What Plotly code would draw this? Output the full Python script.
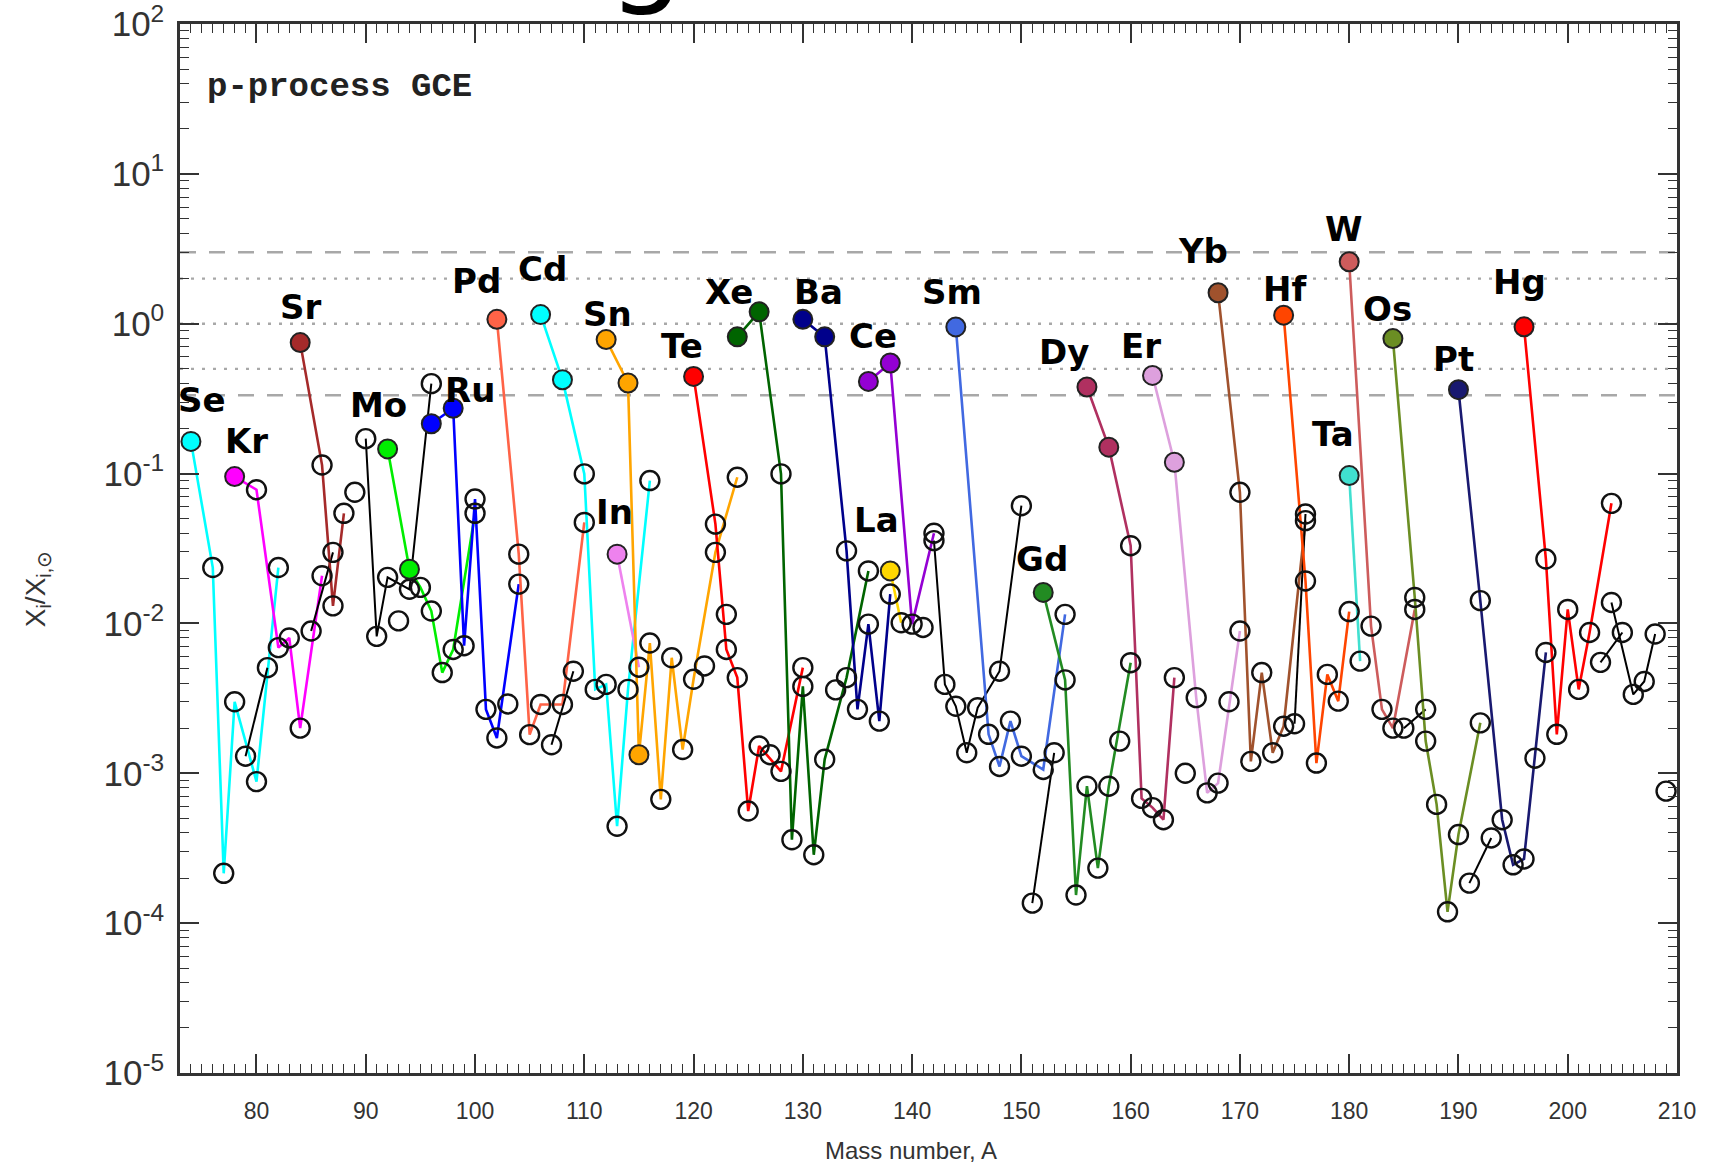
import math
import plotly.graph_objects as go

# ---------------- data (mass number A, X_i / X_i,sun) ----------------
Se_A = [74, 76, 77, 78, 80, 82]
Se_X = [0.164, 0.0236, 2.15e-4, 3.0e-3, 8.8e-4, 0.0236]
Se_P = [74]
Kr_A = [78, 80, 82, 83, 84, 86]
Kr_X = [0.0955, 0.078, 6.9e-3, 8.0e-3, 2.0e-3, 0.0208]
Kr_P = [78]
Br_A = [79, 81]
Br_X = [1.3e-3, 5.07e-3]
Rb_A = [85, 87]
Rb_X = [8.9e-3, 0.0298]
Sr_A = [84, 86, 87, 88]
Sr_X = [0.748, 0.114, 0.0131, 0.0543]
Sr_P = [84]
Y_A = [89]
Y_X = [0.075]
Zr_A = [90, 91, 92, 94, 96]
Zr_X = [0.171, 8.2e-3, 0.0203, 0.0169, 0.398]
Nb_A = [93]
Nb_X = [0.0104]
Mo_A = [92, 94, 95, 96, 97, 98, 100]
Mo_X = [0.146, 0.023, 0.0174, 0.0121, 4.7e-3, 6.7e-3, 0.0543]
Mo_P = [92, 94]
Ru_A = [96, 98, 99, 100, 101, 102, 104]
Ru_X = [0.215, 0.273, 7.1e-3, 0.0676, 2.67e-3, 1.72e-3, 0.0183]
Ru_P = [96, 98]
Rh_A = [103]
Rh_X = [2.9e-3]
Pd_A = [102, 104, 105, 106, 108, 110]
Pd_X = [1.07, 0.029, 1.81e-3, 2.88e-3, 2.88e-3, 0.0472]
Pd_P = [102]
Ag_A = [107, 109]
Ag_X = [1.55e-3, 4.8e-3]
Cd_A = [106, 108, 110, 111, 112, 113, 114, 116]
Cd_X = [1.15, 0.423, 0.0995, 3.63e-3, 3.92e-3, 4.43e-4, 3.63e-3, 0.0898]
Cd_P = [106, 108]
In_A = [113, 115]
In_X = [0.029, 5.1e-3]
In_P = [113]
Sn_A = [112, 114, 115, 116, 117, 118, 119, 120, 122, 124]
Sn_X = [0.784, 0.402, 1.33e-3, 7.4e-3, 6.7e-4, 5.9e-3, 1.44e-3, 4.24e-3, 0.0298, 0.0945]
Sn_P = [112, 114, 115]
Sb_A = [121, 123]
Sb_X = [5.2e-3, 0.0115]
Te_A = [120, 122, 123, 124, 125, 126, 128, 130]
Te_X = [0.445, 0.046, 6.7e-3, 4.35e-3, 5.6e-4, 1.52e-3, 1.03e-3, 5.07e-3]
Te_P = [120]
I_A = [127]
I_X = [1.33e-3]
Xe_A = [124, 126, 128, 129, 130, 131, 132, 134, 136]
Xe_X = [0.817, 1.2, 0.0995, 3.6e-4, 3.8e-3, 2.86e-4, 1.24e-3, 4.35e-3, 0.0224]
Xe_P = [124, 126]
Cs_A = [133]
Cs_X = [3.6e-3]
Ba_A = [130, 132, 134, 135, 136, 137, 138]
Ba_X = [1.07, 0.817, 0.0305, 2.67e-3, 9.9e-3, 2.23e-3, 0.0157]
Ba_P = [130, 132]
La_A = [138, 139]
La_X = [0.0224, 0.0101]
La_P = [138]
Ce_A = [136, 138, 140, 142]
Ce_X = [0.412, 0.547, 9.9e-3, 0.040]
Ce_P = [136, 138]
Pr_A = [141]
Pr_X = [9.4e-3]
Nd_A = [142, 143, 144, 145, 146, 148, 150]
Nd_X = [0.0357, 3.92e-3, 2.8e-3, 1.37e-3, 2.74e-3, 4.8e-3, 0.061]
Sm_A = [144, 147, 148, 149, 150, 152, 154]
Sm_X = [0.952, 1.82e-3, 1.11e-3, 2.23e-3, 1.3e-3, 1.06e-3, 0.0115]
Sm_P = [144]
Eu_A = [151, 153]
Eu_X = [1.36e-4, 1.37e-3]
Gd_A = [152, 154, 155, 156, 157, 158, 160]
Gd_X = [0.0161, 4.2e-3, 1.54e-4, 8.2e-4, 2.33e-4, 8.2e-4, 5.47e-3]
Gd_P = [152]
Tb_A = [159]
Tb_X = [1.64e-3]
Dy_A = [156, 158, 160, 161, 162, 163, 164]
Dy_X = [0.378, 0.15, 0.033, 6.8e-4, 5.9e-4, 4.9e-4, 4.35e-3]
Dy_P = [156, 158]
Ho_A = [165]
Ho_X = [1.0e-3]
Er_A = [162, 164, 166, 167, 168, 170]
Er_X = [0.452, 0.119, 3.2e-3, 7.4e-4, 8.6e-4, 8.9e-3]
Er_P = [162, 164]
Tm_A = [169]
Tm_X = [3.0e-3]
Yb_A = [168, 170, 171, 172, 173, 174, 176]
Yb_X = [1.61, 0.075, 1.2e-3, 4.7e-3, 1.37e-3, 2.06e-3, 0.0485]
Yb_P = [168]
Lu_A = [175, 176]
Lu_X = [2.14e-3, 0.0537]
Hf_A = [174, 176, 177, 178, 179, 180]
Hf_X = [1.14, 0.0192, 1.17e-3, 4.57e-3, 3.03e-3, 0.012]
Hf_P = [174]
Ta_A = [180, 181]
Ta_X = [0.097, 5.6e-3]
Ta_P = [180]
W_A = [180, 182, 183, 184, 186]
W_X = [2.59, 9.6e-3, 2.67e-3, 2.0e-3, 0.0124]
W_P = [180]
Re_A = [185, 187]
Re_X = [2.0e-3, 2.67e-3]
Os_A = [184, 186, 187, 188, 189, 190, 192]
Os_X = [0.796, 0.0149, 1.64e-3, 6.2e-4, 1.19e-4, 3.9e-4, 2.17e-3]
Os_P = [184]
Ir_A = [191, 193]
Ir_X = [1.85e-4, 3.7e-4]
Pt_A = [190, 192, 194, 195, 196, 198]
Pt_X = [0.363, 0.0142, 4.9e-4, 2.45e-4, 2.68e-4, 6.4e-3]
Pt_P = [190]
Au_A = [197]
Au_X = [1.26e-3]
Hg_A = [196, 198, 199, 200, 201, 202, 204]
Hg_X = [0.953, 0.0269, 1.82e-3, 0.0124, 3.63e-3, 8.7e-3, 0.0633]
Hg_P = [196]
Tl_A = [203, 205]
Tl_X = [5.5e-3, 8.7e-3]
Pb_A = [204, 206, 207, 208]
Pb_X = [0.0138, 3.36e-3, 4.1e-3, 8.5e-3]
Bi_A = [209]
Bi_X = [7.6e-4]

# labels of p-nuclei elements
LABEL_TEXT = ["Se", "Kr", "Sr", "Mo", "Ru", "Pd", "Cd", "In", "Sn", "Te", "Xe", "Ba", "La",
              "Ce", "Sm", "Gd", "Dy", "Er", "Yb", "Hf", "Ta", "W", "Os", "Pt", "Hg"]
LABEL_A = [75.0, 79.1, 84.0, 91.2, 99.5, 100.1, 106.2, 112.8, 112.1, 118.95, 123.25, 131.45, 136.7,
           136.45, 143.65, 151.9, 153.9, 160.95, 166.6, 174.1, 178.55, 179.55, 183.55, 189.5, 195.55]
LABEL_Y = [0.31, 0.166, 1.29, 0.285, 0.36, 1.92, 2.33, 0.055, 1.16, 0.71, 1.62, 1.63, 0.049,
           0.83, 1.63, 0.027, 0.65, 0.71, 3.05, 1.71, 0.183, 4.28, 1.26, 0.58, 1.90]

# horizontal reference levels
REF_Y = [3.0, 2.0, 1.0, 0.5, 1.0 / 3.0]
REF_STYLE = ["dash", "dot", "dot", "dot", "dash"]

ELEMENTS = [
    (Se_A, Se_X, Se_P, "#00FFFF"), (Kr_A, Kr_X, Kr_P, "#FF00FF"), (Br_A, Br_X, [], "black"),
    (Rb_A, Rb_X, [], "black"), (Sr_A, Sr_X, Sr_P, "#A52A2A"), (Y_A, Y_X, [], "black"),
    (Zr_A, Zr_X, [], "black"), (Nb_A, Nb_X, [], "black"), (Mo_A, Mo_X, Mo_P, "#00EE00"),
    (Ru_A, Ru_X, Ru_P, "#0000FF"), (Rh_A, Rh_X, [], "black"), (Pd_A, Pd_X, Pd_P, "#FF6347"),
    (Ag_A, Ag_X, [], "black"), (Cd_A, Cd_X, Cd_P, "#00FFFF"), (In_A, In_X, In_P, "#EE82EE"),
    (Sn_A, Sn_X, Sn_P, "#FFA500"), (Sb_A, Sb_X, [], None), (Te_A, Te_X, Te_P, "#FF0000"),
    (I_A, I_X, [], "black"), (Xe_A, Xe_X, Xe_P, "#006400"), (Cs_A, Cs_X, [], "black"),
    (Ba_A, Ba_X, Ba_P, "#00008B"), (La_A, La_X, La_P, "#FFD700"), (Ce_A, Ce_X, Ce_P, "#9400D3"),
    (Pr_A, Pr_X, [], "black"), (Nd_A, Nd_X, [], "black"), (Sm_A, Sm_X, Sm_P, "#4169E1"),
    (Eu_A, Eu_X, [], "black"), (Gd_A, Gd_X, Gd_P, "#228B22"), (Tb_A, Tb_X, [], "black"),
    (Dy_A, Dy_X, Dy_P, "#B03060"), (Ho_A, Ho_X, [], "black"), (Er_A, Er_X, Er_P, "#DDA0DD"),
    (Tm_A, Tm_X, [], "black"), (Yb_A, Yb_X, Yb_P, "#A0522D"), (Lu_A, Lu_X, [], "black"),
    (Hf_A, Hf_X, Hf_P, "#FF4500"), (Ta_A, Ta_X, Ta_P, "#40E0D0"), (W_A, W_X, W_P, "#CD5C5C"),
    (Re_A, Re_X, [], "black"), (Os_A, Os_X, Os_P, "#6B8E23"), (Ir_A, Ir_X, [], "black"),
    (Pt_A, Pt_X, Pt_P, "#191970"), (Au_A, Au_X, [], "black"), (Hg_A, Hg_X, Hg_P, "#FF0000"),
    (Tl_A, Tl_X, [], "black"), (Pb_A, Pb_X, [], "black"), (Bi_A, Bi_X, [], "black"),
]

fig = go.Figure()

# connecting lines
for A, X, P, col in ELEMENTS:
    if col is None or len(A) < 2:
        continue
    fig.add_trace(go.Scatter(x=A, y=X, mode="lines",
                             line=dict(color=col, width=2.0 if col == "black" else 2.6),
                             hoverinfo="skip"))

# markers: open for ordinary isotopes, filled (element colour) for p-nuclei
oa, ox = [], []
pa, px, pc = [], [], []
for A, X, P, col in ELEMENTS:
    for a, x in zip(A, X):
        if a in P:
            pa.append(a); px.append(x); pc.append(col)
        else:
            oa.append(a); ox.append(x)

fig.add_trace(go.Scatter(x=oa, y=ox, mode="markers",
                         marker=dict(symbol="circle-open", size=19, color="#111",
                                     line=dict(width=2.4, color="#111"))))
fig.add_trace(go.Scatter(x=pa, y=px, mode="markers",
                         marker=dict(symbol="circle", size=19, color=pc,
                                     line=dict(width=2.0, color="#222"))))

# reference lines
shapes = []
for yv, st in zip(REF_Y, REF_STYLE):
    shapes.append(dict(type="line", xref="paper", x0=0, x1=1, yref="y",
                       y0=yv, y1=yv, layer="below",
                       line=dict(color="#A8A8A8", width=2.4,
                                 dash="16px,13px" if st == "dash" else "3px,8px")))

annotations = []
for t, a, y in zip(LABEL_TEXT, LABEL_A, LABEL_Y):
    annotations.append(dict(x=a, y=math.log10(y), xref="x", yref="y", text="<b>%s</b>" % t,
                            showarrow=False, xanchor="center", yanchor="middle",
                            font=dict(family="DejaVu Sans", size=34, color="black")))

annotations.append(dict(x=0.017, y=0.94, xref="paper", yref="paper", text="<b>p-process GCE</b>",
                        showarrow=False, xanchor="left", yanchor="middle",
                        font=dict(family="Liberation Mono", size=34, color="#222")))
annotations.append(dict(x=0.488, y=-0.074, xref="paper", yref="paper", text="Mass number, A",
                        showarrow=False, xanchor="center", yanchor="middle",
                        font=dict(family="Liberation Sans Narrow, Liberation Sans", size=24, color="#333")))
annotations.append(dict(x=-0.095, y=0.461, xref="paper", yref="paper",
                        text="X<sub>i</sub>/X<sub>i,⊙</sub>", textangle=-90,
                        showarrow=False, xanchor="center", yanchor="middle",
                        font=dict(family="Liberation Sans", size=28, color="#333")))
annotations.append(dict(x=0.311, y=1.004, xref="paper", yref="paper", text="g",
                        showarrow=False, xanchor="center", yanchor="bottom",
                        font=dict(family="DejaVu Sans", size=120, color="black")))

ymaj = [10.0 ** k for k in range(-5, 3)]
ytxt = ["10<sup>%d</sup>" % k for k in range(-5, 3)]
yminor = [m * 10.0 ** k for k in range(-5, 2) for m in range(2, 10)]

fig.update_layout(
    width=1711, height=1166,
    margin=dict(l=180, r=34, t=24, b=93),
    plot_bgcolor="white", paper_bgcolor="white",
    showlegend=False, shapes=shapes, annotations=annotations,
    xaxis=dict(range=[73, 210], tickvals=list(range(80, 211, 10)), automargin=False,
               ticks="inside", ticklen=19, tickwidth=1.6, tickcolor="#333",
               ticklabelstandoff=16, ticklabeloverflow="allow",
               minor=dict(ticks="inside", ticklen=9, dtick=1, tickwidth=1.2, tickcolor="#333"),
               showline=True, linecolor="#333", linewidth=2.5, mirror="ticks",
               showgrid=False, zeroline=False,
               tickfont=dict(family="Liberation Sans Narrow, Liberation Sans", size=23, color="#333")),
    yaxis=dict(type="log", range=[-5, 2], tickvals=ymaj, ticktext=ytxt, automargin=False,
               ticks="inside", ticklen=19, tickwidth=1.6, tickcolor="#333",
               ticklabelstandoff=6, ticklabeloverflow="allow",
               minor=dict(ticks="inside", ticklen=9, tickvals=yminor, tickwidth=1.2, tickcolor="#333"),
               showline=True, linecolor="#333", linewidth=2.5, mirror="ticks",
               showgrid=False, zeroline=False,
               tickfont=dict(family="Liberation Sans", size=35, color="#333")),
)

fig.write_html("out.html", config={"displayModeBar": False},
               post_script="document.body.style.margin='0';")
